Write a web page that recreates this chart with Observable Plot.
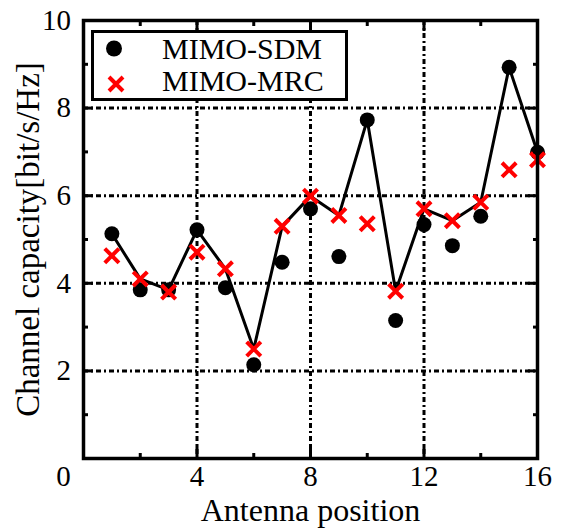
<!DOCTYPE html>
<html>
<head>
<meta charset="utf-8">
<script src="https://cdn.jsdelivr.net/npm/d3@7"></script>
<script src="https://cdn.jsdelivr.net/npm/@observablehq/plot@0.6"></script>
<style>
  body { margin: 0; background: #fff; }
  #wrap { position: relative; width: 561px; height: 529px; font-family: "Liberation Serif", "Times New Roman", serif; }
  #legend { position: absolute; left: 91px; top: 30px; }
</style>
</head>
<body>
<div id="wrap"></div>
<script>
// ---- data ----
const positions = [1, 2, 3, 4, 5, 6, 7, 8, 9, 10, 11, 12, 13, 14, 15, 16];
const sdm = [5.13, 3.85, 3.85, 5.22, 3.90, 2.14, 4.48, 5.70, 4.61, 7.73, 3.15, 5.34, 4.86, 5.53, 8.93, 6.99];
const mrc = [4.63, 4.10, 3.80, 4.71, 4.33, 2.50, 5.30, 5.99, 5.55, 5.36, 3.82, 5.70, 5.43, 5.85, 6.59, 6.82];
const selected = [5.13, 4.10, 3.85, 5.22, 4.33, 2.50, 5.30, 5.99, 5.55, 7.73, 3.82, 5.70, 5.43, 5.85, 8.93, 6.99];
const seriesNames = ["MIMO-SDM", "MIMO-MRC"];
const xMajor = [0, 4, 8, 12, 16];
const xMinor = [2, 6, 10, 14];
const xLabels = [4, 8, 12, 16];
const yMajor = [0, 2, 4, 6, 8, 10];
const yMinor = [1, 3, 5, 7, 9];
const yLabels = [2, 4, 6, 8, 10];
const xGrid = [4, 8, 12];
const yGrid = [2, 4, 6, 8];
const xTitle = "Antenna position";
const yTitle = "Channel capacity[bit/s/Hz]";

const sdmData = positions.map((p, i) => ({x: p, y: sdm[i]}));
const mrcData = positions.map((p, i) => ({x: p, y: mrc[i]}));
const selData = positions.map((p, i) => ({x: p, y: selected[i]}));

const gridStyle = {stroke: "#000", strokeOpacity: 1, strokeWidth: 3, strokeDasharray: "5,3,2,3"};
const tickOnly = {label: null, fill: "none", tickFormat: () => ""};

const chart = Plot.plot({
  width: 561,
  height: 529,
  marginLeft: 83,
  marginRight: 24,
  marginTop: 20,
  marginBottom: 71,
  style: {fontFamily: "Liberation Serif, Times New Roman, serif", color: "#000", background: "#fff"},
  x: {domain: [0, 16]},
  y: {domain: [0, 10]},
  marks: [
    Plot.gridX(xGrid, gridStyle),
    Plot.gridY(yGrid, gridStyle),
    Plot.line(selData, {x: "x", y: "y", stroke: "#000", strokeWidth: 3}),
    Plot.dot(sdmData, {x: "x", y: "y", r: 7.5, fill: "#000", stroke: "none"}),
    Plot.dot(mrcData, {x: "x", y: "y", r: 6.5, symbol: "times", stroke: "#ff0000", strokeWidth: 4}),
    Plot.frame({stroke: "#000", strokeWidth: 3.5}),
    // inward ticks
    Plot.axisX(xMajor, {anchor: "bottom", tickSize: -12, strokeWidth: 3, ...tickOnly}),
    Plot.axisX(xMinor, {anchor: "bottom", tickSize: -5, strokeWidth: 3, ...tickOnly}),
    Plot.axisX(xMajor, {anchor: "top", tickSize: -10, strokeWidth: 3, ...tickOnly}),
    Plot.axisX(xMinor, {anchor: "top", tickSize: -5, strokeWidth: 3, ...tickOnly}),
    Plot.axisY(yMajor, {anchor: "left", tickSize: -10, strokeWidth: 3, ...tickOnly}),
    Plot.axisY(yMinor, {anchor: "left", tickSize: -5, strokeWidth: 3, ...tickOnly}),
    Plot.axisY(yMajor, {anchor: "right", tickSize: -10, strokeWidth: 3, ...tickOnly}),
    Plot.axisY(yMinor, {anchor: "right", tickSize: -5, strokeWidth: 3, ...tickOnly}),
    // tick labels
    Plot.axisX(xLabels, {anchor: "bottom", tickSize: 0, tickPadding: 7, fontSize: 29, label: null}),
    Plot.axisX([0], {anchor: "bottom", tickSize: 0, tickPadding: 7, dx: -20, fontSize: 29, label: null}),
    Plot.axisY(yLabels, {anchor: "left", tickSize: 0, tickPadding: 12.5, fontSize: 29, label: null}),
    // axis titles
    Plot.axisX([], {anchor: "bottom", tickSize: 0, fontSize: 32, label: xTitle, labelAnchor: "center", labelOffset: 62, labelArrow: "none"}),
    Plot.axisY([], {anchor: "left", tickSize: 0, fontSize: 33, label: yTitle, labelAnchor: "center", labelOffset: 68, labelArrow: "none"})
  ]
});

const wrap = document.getElementById("wrap");
wrap.appendChild(chart);

// legend (inside the plot frame, top-left)
const ns = "http://www.w3.org/2000/svg";
const leg = document.createElementNS(ns, "svg");
leg.setAttribute("id", "legend");
leg.setAttribute("width", 257);
leg.setAttribute("height", 71);
leg.style.position = "absolute";
leg.style.left = "91px";
leg.style.top = "30px";
leg.innerHTML = `
  <rect x="1.5" y="1.5" width="254" height="68" fill="#fff" stroke="#000" stroke-width="3"></rect>
  <circle cx="23" cy="18.5" r="8" fill="#000"></circle>
  <path d="M18,47 L32,61 M18,61 L32,47" stroke="#ff0000" stroke-width="4" fill="none"></path>
  <text x="71" y="28.5" font-family="Liberation Serif, Times New Roman, serif" font-size="30" fill="#000">${seriesNames[0]}</text>
  <text x="71" y="61" font-family="Liberation Serif, Times New Roman, serif" font-size="30" fill="#000">${seriesNames[1]}</text>
`;
wrap.appendChild(leg);
</script>
</body>
</html>
